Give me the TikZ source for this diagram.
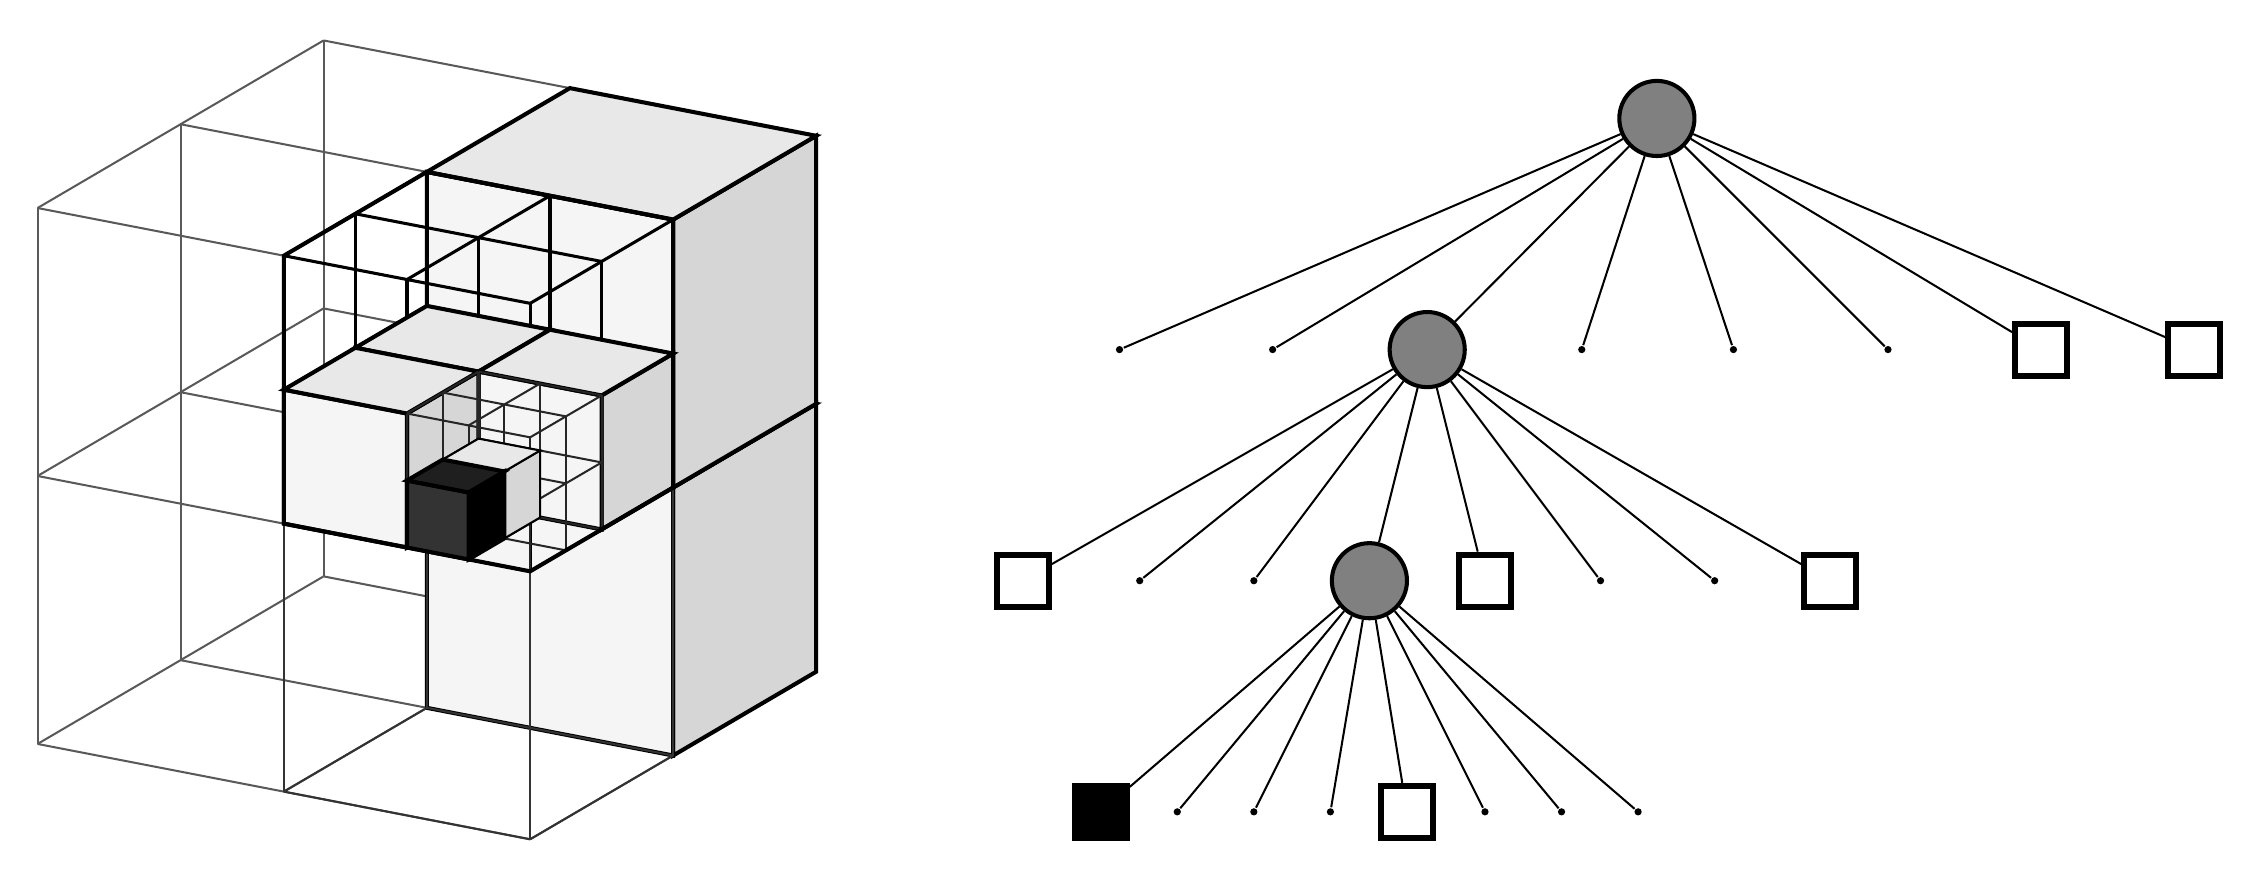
\documentclass[tikz,border=0pt]{standalone}
\usetikzlibrary{positioning}
\newcommand{\octgrid}[5]{%
  \foreach \i in {0,1,2}
  \foreach \j in {0,1,2}{
    \draw[#5] ({#1+\i*#4},{#2+\j*#4},#3) -- ++(0,0,{2*#4});
    \draw[#5] ({#1+\i*#4},#2,{#3+\j*#4}) -- ++(0,{2*#4},0);
    \draw[#5] (#1,{#2+\i*#4},{#3+\j*#4}) -- ++({2*#4},0,0);
  }}
\newcommand{\cubeedges}[5]{%
  \foreach \i in {0,1}
  \foreach \j in {0,1}{
    \draw[#5] ({#1+\i*#4},{#2+\j*#4},#3) -- ++(0,0,#4);
    \draw[#5] ({#1+\i*#4},#2,{#3+\j*#4}) -- ++(0,#4,0);
    \draw[#5] (#1,{#2+\i*#4},{#3+\j*#4}) -- ++(#4,0,0);
  }}
\newcommand{\solidcube}[7]{%
  \filldraw[#5] (#1,#2,#3) -- ++(0,#4,0) -- ++(0,0,#4) -- ++(0,-#4,0) -- cycle;
  \filldraw[#6] (#1,#2,#3) -- ++(#4,0,0) -- ++(0,0,#4) -- ++(-#4,0,0) -- cycle;
  \filldraw[#7] (#1,#2,{#3+#4}) -- ++(#4,0,0) -- ++(0,#4,0) -- ++(-#4,0,0) -- cycle;}
\begin{document}
\begin{tikzpicture}
[inner/.style={circle,draw,thick,fill=black!50,minimum size=0.52cm,inner sep=0pt},
full/.style={rectangle,draw,very thick,fill=white,minimum size=0.36cm,inner sep=0pt},
hit/.style={full,fill=black},
empty/.style={circle,fill=black,minimum size=0.05cm,inner sep=0pt},
side/.style={draw=black,thick,fill=black!16},
front/.style={draw=black,thick,fill=black!4},
top/.style={draw=black,thick,fill=black!9}]
\useasboundingbox (0,0) rectangle (15.68,6.05);
% octree cube
\begin{scope}[shift={(3.67,0.24)},x={(-3.41cm,0.66cm)},y={(1.98cm,1.16cm)},z={(0cm,3.71cm)}]
\octgrid{0}{0}{0}{0.5}{black!65,thin}
\solidcube{0}{0.5}{0}{0.5}{side}{front}{top}
\solidcube{0}{0.5}{0.5}{0.5}{side}{front}{top}
\cubeedges{0}{0}{0}{0.5}{black!80,thin}
\octgrid{0}{0}{0.5}{0.25}{black,semithick}
\solidcube{0.25}{0.25}{0.5}{0.25}{side}{front}{top}
\solidcube{0}{0.25}{0.5}{0.25}{side}{front}{top}
\solidcube{0.25}{0}{0.5}{0.25}{side}{front}{top}
\octgrid{0}{0}{0.5}{0.125}{black!85,thin}
\solidcube{0.125}{0.125}{0.5}{0.125}{side,thin}{front,thin}{top,thin}
\draw[thick] (0,0,0.5) -- (0.5,0,0.5) -- (0.5,0,1) -- (0.5,0.5,1) -- (0,0.5,1) -- (0,0.5,0.5) -- cycle;
\solidcube{0.125}{0}{0.5}{0.125}{draw=black,thick,fill=black}{draw=black,thick,fill=black!80}{draw=black,thick,fill=black!88}
\end{scope}
% tree
\node[inner] (r) at (11.47,5.23) {};
\node[empty] (a1) at (7.75,3.63) {};
\node[empty] (a2) at (8.81,3.63) {};
\node[inner] (a3) at (9.88,3.63) {};
\node[empty] (a4) at (10.95,3.63) {};
\node[empty] (a5) at (12.00,3.63) {};
\node[empty] (a6) at (13.07,3.63) {};
\node[full] (a7) at (14.13,3.63) {};
\node[full] (a8) at (15.19,3.63) {};
\node[full] (b1) at (7.08,2.03) {};
\node[empty] (b2) at (7.89,2.03) {};
\node[empty] (b3) at (8.68,2.03) {};
\node[inner] (b4) at (9.48,2.03) {};
\node[full] (b5) at (10.28,2.03) {};
\node[empty] (b6) at (11.08,2.03) {};
\node[empty] (b7) at (11.87,2.03) {};
\node[full] (b8) at (12.67,2.03) {};
\node[hit] (c1) at (7.62,0.43) {};
\node[empty] (c2) at (8.15,0.43) {};
\node[empty] (c3) at (8.68,0.43) {};
\node[empty] (c4) at (9.21,0.43) {};
\node[full] (c5) at (9.74,0.43) {};
\node[empty] (c6) at (10.28,0.43) {};
\node[empty] (c7) at (10.81,0.43) {};
\node[empty] (c8) at (11.34,0.43) {};
\foreach \k in {1,...,8}{
  \draw (r) -- (a\k);
  \draw (a3) -- (b\k);
  \draw (b4) -- (c\k);
}
\end{tikzpicture}
\end{document}
